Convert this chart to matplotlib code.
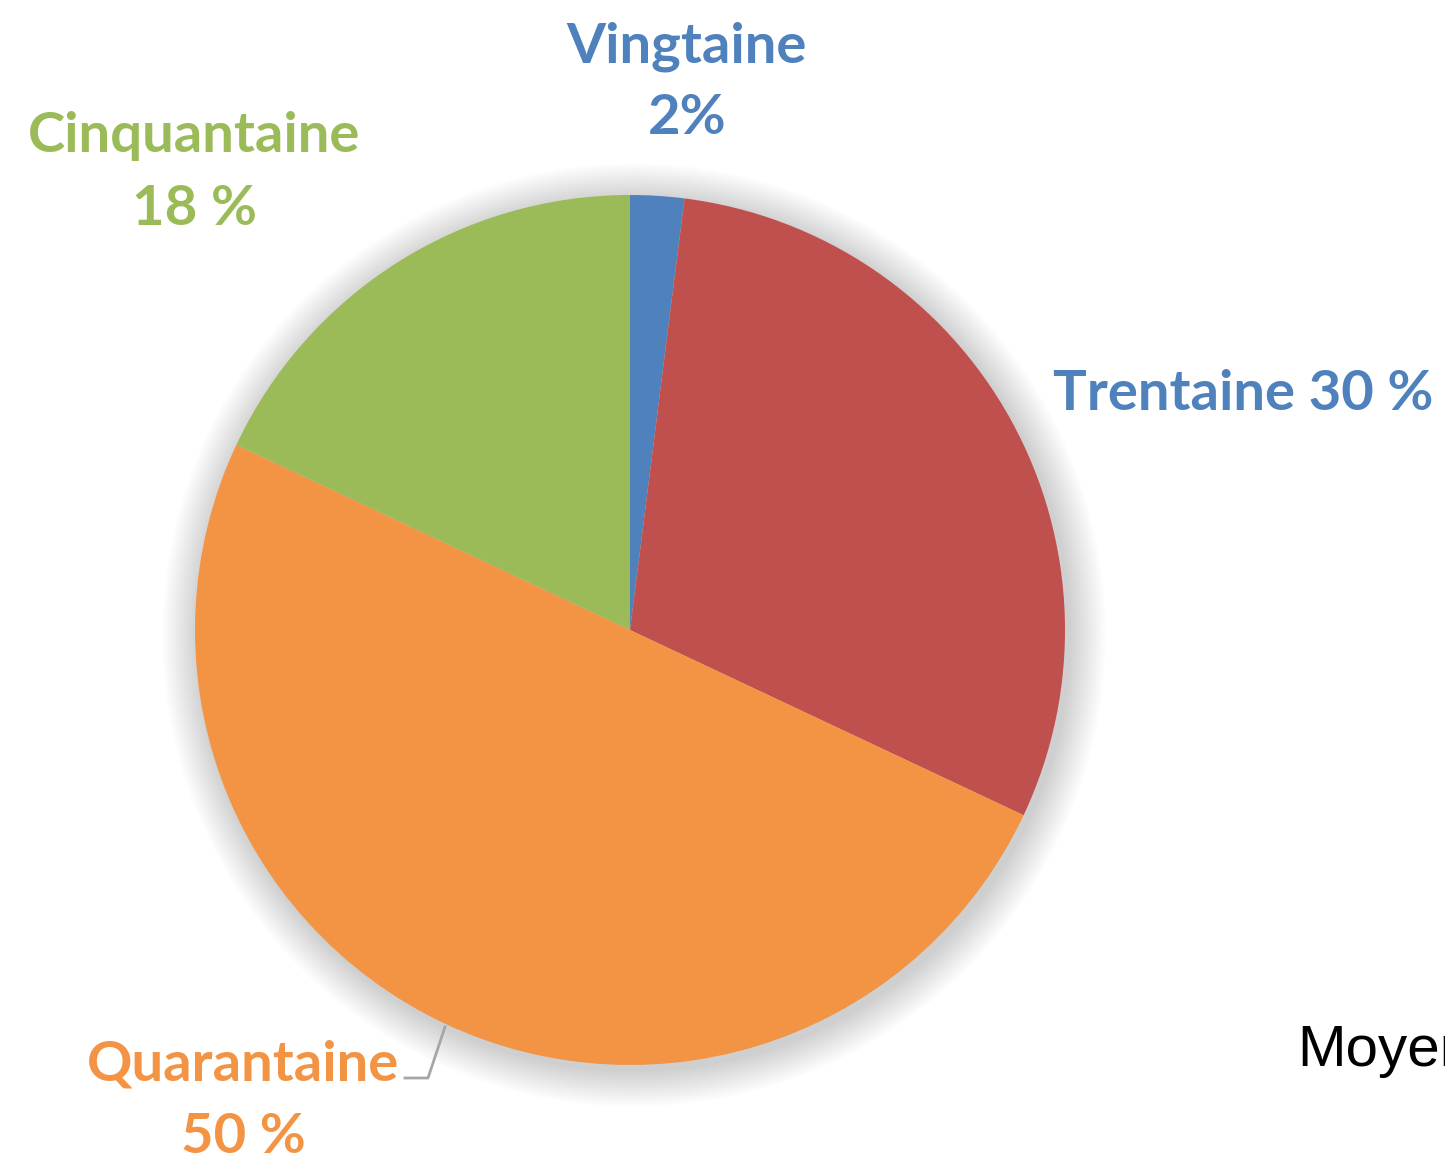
import numpy as np
import matplotlib.pyplot as plt
from matplotlib.patches import Circle

labels = ['Vingtaine', 'Trentaine', 'Quarantaine', 'Cinquantaine']
values = [2, 30, 50, 18]
colors = ['#4F81BD', '#C0504D', '#F39444', '#9BBB59']
label_text = ['Vingtaine\n2%', 'Trentaine 30 %', 'Quarantaine\n50 %', 'Cinquantaine\n18 %']
label_colors = ['#4F81BD', '#4F81BD', '#F39444', '#9BBB59']

W, H = 1445, 1159
fig = plt.figure(figsize=(W / 100, H / 100), dpi=100)
ax = fig.add_axes([0, 0, 1, 1])
ax.set_xlim(0, W)
ax.set_ylim(0, H)
ax.set_aspect('equal')
ax.axis('off')

cx, cy, r = 630, H - 630, 435

# soft shadow around the pie
for k in range(16):
    ax.add_patch(Circle((cx + 4, cy - 5), r + 2 + k * 2.3, color='#000000',
                        alpha=0.01, lw=0, zorder=0))

ax.pie(values, colors=colors, startangle=90, counterclock=False,
       center=(cx, cy), radius=r, frame=True,
       wedgeprops=dict(linewidth=0), normalize=True)
ax.set_xlim(0, W)
ax.set_ylim(0, H)
ax.axis('off')

font = dict(family='Lato', weight='bold', fontsize=40.5)
pos = [(687, 62, 72), (1243, 410, 0), (243, 1080, 73), (194, 152, 73)]
for txt, col, (x, y, gap) in zip(label_text, label_colors, pos):
    lines = txt.split('\n')
    for i, ln in enumerate(lines):
        ax.text(x, H - (y + i * gap), ln, color=col, ha='center', va='baseline', **font)

# leader line for Quarantaine
ax.plot([405, 428, 445], [H - 1078, H - 1078, H - 1027], color='#A6A6A6', lw=2)

ax.text(1297, H - 1066, 'Moyen', family='Liberation Sans', fontsize=42,
        color='black', ha='left', va='baseline')

fig.savefig('out.png', dpi=100)
